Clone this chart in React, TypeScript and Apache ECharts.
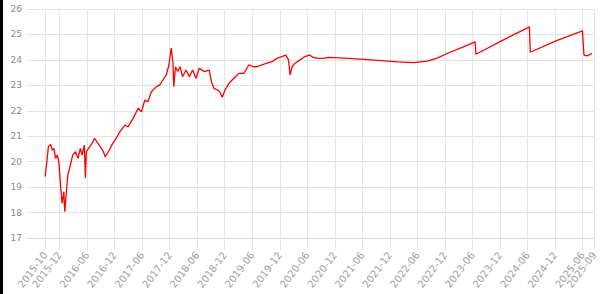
import React, { useEffect, useRef } from "react";
import * as echarts from "echarts";

const dates: string[] = [
  "2015-08-27", "2015-09-18", "2015-10-03", "2015-10-13", "2015-10-24", "2015-11-05", "2015-11-16", "2015-11-26",
  "2015-12-08", "2015-12-18", "2015-12-29", "2016-01-05", "2016-01-14", "2016-01-25", "2016-02-12", "2016-02-27",
  "2016-03-15", "2016-04-02", "2016-04-17", "2016-04-28", "2016-05-13", "2016-05-20", "2016-05-26", "2016-06-11",
  "2016-07-03", "2016-07-20", "2016-08-05", "2016-08-27", "2016-09-18", "2016-09-29", "2016-10-20", "2016-11-12",
  "2016-12-04", "2017-01-06", "2017-02-08", "2017-02-28", "2017-04-02", "2017-05-05", "2017-05-27", "2017-06-18",
  "2017-07-10", "2017-08-01", "2017-09-04", "2017-09-25", "2017-10-17", "2017-11-09", "2017-11-26", "2017-12-11",
  "2017-12-22", "2017-12-28", "2018-01-09", "2018-01-24", "2018-02-09", "2018-02-25", "2018-03-18", "2018-04-10",
  "2018-05-01", "2018-05-23", "2018-06-14", "2018-07-17", "2018-08-19", "2018-09-07", "2018-09-21", "2018-10-13",
  "2018-10-28", "2018-11-15", "2018-12-03", "2018-12-29", "2019-02-01", "2019-03-04", "2019-04-06", "2019-05-08",
  "2019-06-10", "2019-07-02", "2019-08-04", "2019-09-07", "2019-10-10", "2019-11-12", "2019-12-14", "2020-01-10",
  "2020-01-28", "2020-02-08", "2020-02-22", "2020-03-11", "2020-04-13", "2020-05-16", "2020-06-14", "2020-07-10",
  "2020-08-12", "2020-09-14", "2020-10-17", "2021-02-26", "2021-06-15", "2021-10-02", "2022-01-20", "2022-05-09",
  "2022-08-05", "2022-10-10", "2023-01-04", "2023-03-28", "2023-06-18", "2023-06-24", "2023-12-11", "2024-06-04",
  "2024-06-13", "2024-06-19", "2024-12-07", "2025-05-30", "2025-06-10", "2025-07-02", "2025-08-04",
];

const values: number[] = [
  19.41, 20.59, 20.68, 20.46, 20.52, 20.13, 20.26, 20.0,
  19.02, 18.36, 18.82, 18.03, 18.69, 19.47, 19.87, 20.26,
  20.39, 20.13, 20.52, 20.26, 20.65, 19.35, 20.39, 20.52,
  20.72, 20.92, 20.78, 20.59, 20.39, 20.19, 20.39, 20.65,
  20.85, 21.18, 21.44, 21.37, 21.7, 22.1, 21.96, 22.42,
  22.36, 22.75, 22.95, 23.01, 23.21, 23.41, 23.8, 24.46,
  23.93, 22.95, 23.73, 23.54, 23.73, 23.34, 23.6, 23.34,
  23.6, 23.28, 23.67, 23.54, 23.6, 23.08, 22.88, 22.82,
  22.75, 22.53, 22.82, 23.08, 23.28, 23.47, 23.47, 23.8,
  23.73, 23.73, 23.8, 23.87, 23.93, 24.06, 24.13, 24.19,
  24.0, 23.41, 23.73, 23.87, 24.0, 24.13, 24.19, 24.1,
  24.06, 24.06, 24.1, 24.06, 24.02, 23.97, 23.92, 23.89,
  23.95, 24.07, 24.3, 24.5, 24.71, 24.22, 24.75, 25.27,
  25.3, 24.3, 24.75, 25.14, 24.19, 24.16, 24.26,
];

const tickDates: string[] = [
  "2015-08-27", "2015-12-01", "2016-06-01", "2016-12-01", "2017-06-01", "2017-12-01", "2018-06-01",
  "2018-12-01", "2019-06-01", "2019-12-01", "2020-06-01", "2020-12-01", "2021-06-01", "2021-12-01",
  "2022-06-01", "2022-12-01", "2023-06-01", "2023-12-01", "2024-06-01", "2024-12-01", "2025-06-01",
];
const tickLabels: string[] = [
  "2015-10", "2015-12", "2016-06", "2016-12", "2017-06", "2017-12", "2018-06",
  "2018-12", "2019-06", "2019-12", "2020-06", "2020-12", "2021-06", "2021-12",
  "2022-06", "2022-12", "2023-06", "2023-12", "2024-06", "2024-12", "2025-06",
];
const lastTickDate = "2025-08-17";
const lastTickLabel = "2025-09";

const axisMinDate = "2015-04-28";
const axisMaxDate = "2025-08-19";

const yMin = 17;
const yMax = 26;

// months elapsed since 2015-12-01 (fractional)
const toMonths = (d: string) => {
  const [y, m, day] = d.split("-").map(Number);
  return (y - 2015) * 12 + (m - 12) + (day - 1) / 30;
};

export default function App() {
  const ref = useRef<HTMLDivElement>(null);
  useEffect(() => {
    if (!ref.current) return;
    const chart = echarts.init(ref.current, undefined, { renderer: "svg" });
    const tickPos = tickDates.map(toMonths);
    const lastPos = toMonths(lastTickDate);
    const seriesData = dates.map((d, i) => [toMonths(d), values[i]]);
    const labelStyle = {
      rotate: 53,
      margin: 15,
      fontSize: 10,
      fontFamily: "DejaVu Sans",
      color: "#a0a0a0",
      hideOverlap: false,
    };
    const xMin = toMonths(axisMinDate);
    const xMax = toMonths(axisMaxDate);
    chart.setOption({
      animation: false,
      grid: { left: 27, right: 1, top: 9, bottom: 56 },
      xAxis: [
        {
          type: "value",
          min: xMin,
          max: xMax,
          axisLine: { show: true, lineStyle: { color: "#dcdcdc", width: 1 } },
          axisTick: { show: true, length: 12, customValues: tickPos, lineStyle: { color: "#e6e6e6" } },
          axisLabel: {
            ...labelStyle,
            customValues: tickPos,
            showMinLabel: true,
            showMaxLabel: true,
            formatter: (v: number) => {
              let best = 0;
              let bestD = Infinity;
              tickPos.forEach((t, i) => {
                const dd = Math.abs(t - v);
                if (dd < bestD) { bestD = dd; best = i; }
              });
              return tickLabels[best];
            },
          },
          splitLine: { show: true, lineStyle: { color: "#e6e6e6", width: 1 } },
        },
        {
          type: "value",
          position: "bottom",
          min: xMin,
          max: xMax,
          axisLine: { show: false },
          axisTick: { show: true, length: 12, customValues: [lastPos], lineStyle: { color: "#e6e6e6" } },
          axisLabel: {
            ...labelStyle,
            customValues: [lastPos],
            showMaxLabel: true,
            formatter: () => lastTickLabel,
          },
          splitLine: { show: true, lineStyle: { color: "#e6e6e6", width: 1 } },
        },
      ],
      yAxis: {
        type: "value",
        min: yMin,
        max: yMax,
        interval: 1,
        axisLine: { show: false },
        axisTick: { show: false },
        axisLabel: { margin: 5, fontSize: 9, fontFamily: "DejaVu Sans", color: "#8a8a8a" },
        splitLine: { show: true, lineStyle: { color: "#e3e3e3", width: 1 } },
      },
      series: [
        {
          type: "line",
          xAxisIndex: 0,
          data: seriesData,
          showSymbol: false,
          lineStyle: { color: "#ff0000", width: 1.3 },
          itemStyle: { color: "#ff0000" },
        },
      ],
    });
    return () => chart.dispose();
  }, []);
  return (
    <div style={{ position: "absolute", left: 0, top: 0, width: 600, height: 294, background: "#fff" }}>
      <div style={{ position: "absolute", left: 0, top: 0, width: 3, height: 294, background: "#000", zIndex: 2 }} />
      <div ref={ref} style={{ position: "absolute", left: 0, top: 0, width: 600, height: 294 }} />
    </div>
  );
}
